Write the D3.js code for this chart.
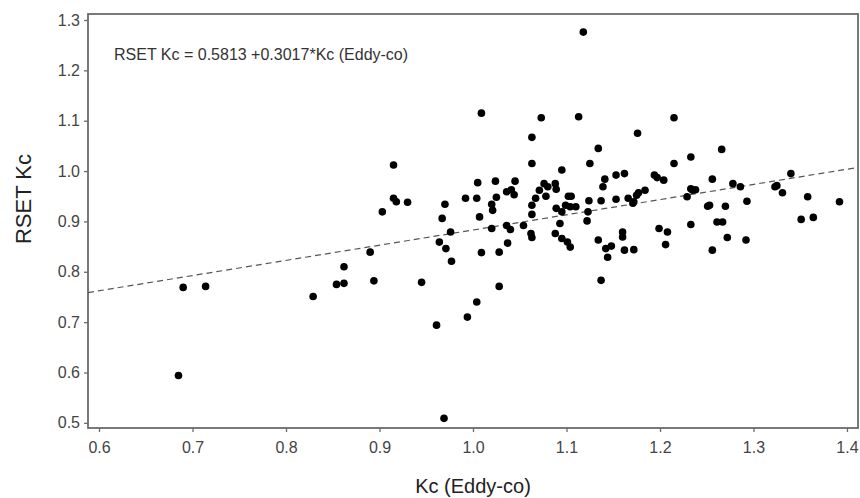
<!DOCTYPE html>
<html>
<head>
<meta charset="utf-8">
<script src="https://cdn.jsdelivr.net/npm/d3@7"></script>
<style>
  html, body { margin: 0; padding: 0; background: #fff; }
  svg { display: block; }
</style>
</head>
<body>
<svg id="chart" width="860" height="498"></svg>
<script>
// ---- data ----
const kcEddy = [
  0.685, 0.690, 0.714, 0.829, 0.854, 0.862, 0.862, 0.890, 0.894, 0.903,
  0.915, 0.915, 0.918, 0.930, 0.945, 0.961, 0.964, 0.967, 0.970, 0.969,
  0.971, 0.976, 0.977,
  0.992, 0.994, 1.004, 1.004, 1.005, 1.007, 1.009, 1.009, 1.020, 1.021,
  1.020, 1.024, 1.025, 1.028, 1.028, 1.036, 1.036, 1.037, 1.040, 1.041,
  1.044, 1.045, 1.054, 1.063, 1.063, 1.063, 1.063, 1.062, 1.063, 1.067,
  1.071, 1.073, 1.076, 1.078, 1.080, 1.088, 1.088, 1.089, 1.089, 1.093,
  1.095, 1.095, 1.095, 1.099, 1.101, 1.102, 1.105, 1.104, 1.104, 1.110,
  1.113, 1.118, 1.122, 1.123, 1.124, 1.125, 1.134, 1.134, 1.137, 1.137,
  1.139, 1.141, 1.142, 1.144, 1.148, 1.153, 1.153, 1.160, 1.160, 1.162,
  1.162, 1.166, 1.171, 1.172, 1.172, 1.175, 1.177, 1.176, 1.184, 1.194,
  1.197, 1.199, 1.204, 1.206, 1.208, 1.215, 1.215,
  1.229, 1.233, 1.233, 1.235, 1.238, 1.233, 1.251, 1.253, 1.256, 1.256,
  1.261, 1.266, 1.267, 1.270, 1.272, 1.278, 1.286, 1.292, 1.293, 1.323,
  1.325, 1.331, 1.340, 1.351, 1.358, 1.364, 1.392
];
const rsetKc = [
  0.594, 0.769, 0.771, 0.751, 0.775, 0.777, 0.810, 0.839, 0.782, 0.919,
  1.012, 0.946, 0.939, 0.938, 0.779, 0.694, 0.859, 0.906, 0.934, 0.509,
  0.846, 0.879, 0.821,
  0.946, 0.710, 0.946, 0.740, 0.977, 0.909, 1.115, 0.838, 0.934, 0.922,
  0.886, 0.980, 0.948, 0.839, 0.771, 0.959, 0.892, 0.857, 0.884, 0.963,
  0.953, 0.980, 0.892, 1.067, 1.015, 0.932, 0.914, 0.876, 0.868, 0.946,
  0.962, 1.106, 0.975, 0.950, 0.969, 0.876, 0.975, 0.964, 0.926, 0.896,
  0.919, 1.002, 0.866, 0.932, 0.859, 0.950, 0.950, 0.929, 0.849, 0.929,
  1.108, 1.276, 0.901, 0.919, 0.941, 1.015, 1.045, 0.863, 0.941, 0.783,
  0.969, 0.984, 0.846, 0.829, 0.851, 0.992, 0.944, 0.879, 0.869, 0.995,
  0.843, 0.946, 0.936, 0.939, 0.844, 0.952, 0.957, 1.075, 0.962, 0.992,
  0.987, 0.886, 0.982, 0.854, 0.879, 1.106, 1.015,
  0.949, 1.028, 0.965, 0.962, 0.963, 0.894, 0.930, 0.932, 0.984, 0.843,
  0.899, 1.043, 0.899, 0.930, 0.868, 0.975, 0.969, 0.863, 0.940, 0.969,
  0.971, 0.957, 0.995, 0.904, 0.949, 0.908, 0.939
];
const fitIntercept = 0.5813;
const fitSlope = 0.3017;
const xTicks = [0.6, 0.7, 0.8, 0.9, 1.0, 1.1, 1.2, 1.3, 1.4];
const yTicks = [0.5, 0.6, 0.7, 0.8, 0.9, 1.0, 1.1, 1.2, 1.3];
const xTitle = "Kc (Eddy-co)";
const yTitle = "RSET Kc";
const equationText = "RSET Kc = 0.5813 +0.3017*Kc (Eddy-co)";

// ---- layout ----
const W = 860, H = 498;
const m = { left: 88, right: 2, top: 14, bottom: 70 };
const svg = d3.select("#chart");
const font = "Arial, 'Liberation Sans', sans-serif";

const x = d3.scaleLinear().domain([0.5882, 1.4118]).range([m.left, W - m.right]);
const y = d3.scaleLinear().domain([0.4898, 1.3119]).range([H - m.bottom, m.top]);

const axisColor = "#6b6b6b";
const textColor = "#444";

// x axis
const gx = svg.append("g")
  .attr("transform", `translate(0,${H - m.bottom})`)
  .call(d3.axisBottom(x).tickValues(xTicks).tickFormat(d3.format(".1f")).tickSize(4).tickPadding(10));
gx.select(".domain").remove();
gx.selectAll(".tick line").attr("stroke", axisColor).attr("stroke-width", 1.3);
gx.selectAll(".tick text").attr("fill", textColor).style("font-family", font).style("font-size", "16px");

// y axis
const gy = svg.append("g")
  .attr("transform", `translate(${m.left},0)`)
  .call(d3.axisLeft(y).tickValues(yTicks).tickFormat(d3.format(".1f")).tickSize(4).tickPadding(4));
gy.select(".domain").remove();
gy.selectAll(".tick line").attr("stroke", axisColor).attr("stroke-width", 1.3);
gy.selectAll(".tick text").attr("fill", textColor).style("font-family", font).style("font-size", "16px");

// frame
svg.append("rect")
  .attr("x", m.left).attr("y", m.top)
  .attr("width", W - m.left - m.right).attr("height", H - m.top - m.bottom)
  .attr("fill", "none").attr("stroke", axisColor).attr("stroke-width", 1.8);

// clip for the fit line
svg.append("clipPath").attr("id", "plotClip")
  .append("rect").attr("x", m.left).attr("y", m.top)
  .attr("width", W - m.left - m.right).attr("height", H - m.top - m.bottom);

// fit line
const [x0, x1] = x.domain();
svg.append("line")
  .attr("clip-path", "url(#plotClip)")
  .attr("x1", x(x0)).attr("y1", y(fitIntercept + fitSlope * x0))
  .attr("x2", x(x1)).attr("y2", y(fitIntercept + fitSlope * x1))
  .attr("stroke", "#555").attr("stroke-width", 1.2)
  .attr("stroke-dasharray", "6,4");

// points
const pts = kcEddy.map((v, i) => ({ x: v, y: rsetKc[i] }));
svg.append("g").selectAll("circle").data(pts).join("circle")
  .attr("cx", d => x(d.x)).attr("cy", d => y(d.y)).attr("r", 3.8)
  .attr("fill", "#000");

// equation
svg.append("text")
  .attr("x", 114).attr("y", 60)
  .attr("fill", "#333")
  .style("font-family", font).style("font-size", "16px")
  .text(equationText);

// axis titles
svg.append("text")
  .attr("x", (m.left + W - m.right) / 2).attr("y", 493)
  .attr("text-anchor", "middle").attr("fill", "#222")
  .style("font-family", font).style("font-size", "20px")
  .text(xTitle);

svg.append("text")
  .attr("transform", `translate(31,199) rotate(-90)`)
  .attr("text-anchor", "middle").attr("fill", "#222")
  .style("font-family", font).style("font-size", "22px")
  .text(yTitle);
</script>
</body>
</html>
